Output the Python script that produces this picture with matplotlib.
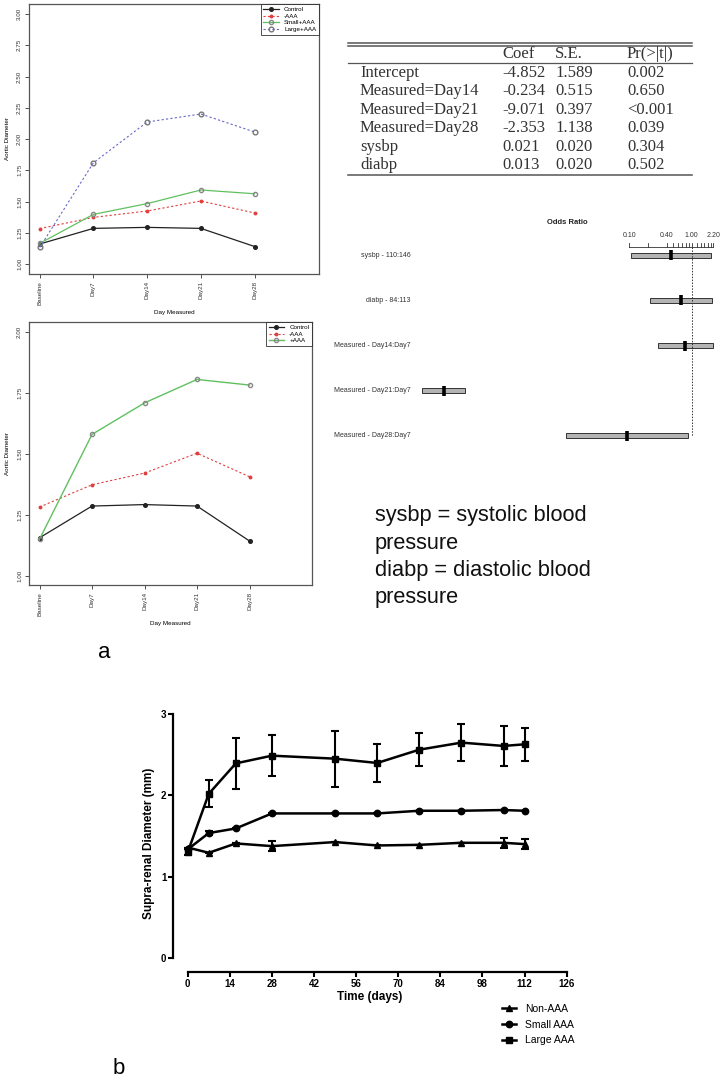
import matplotlib
matplotlib.use("Agg")
import matplotlib.pyplot as plt
import matplotlib.transforms as mtransforms
from matplotlib.lines import Line2D
import numpy as np

# ---- panel a, top: aortic diameter by group (4 groups)
days_cat = ["Baseline", "Day7", "Day14", "Day21", "Day28"]
control = [1.16, 1.285, 1.293, 1.285, 1.14]
minus_aaa = [1.283, 1.373, 1.424, 1.504, 1.408]
small_aaa = [1.165, 1.397, 1.483, 1.592, 1.562]
large_aaa = [1.133, 1.81, 2.136, 2.20, 2.056]

# ---- panel a, middle: aortic diameter (3 groups)
control2 = [1.157, 1.287, 1.293, 1.287, 1.144]
minus_aaa2 = [1.283, 1.374, 1.422, 1.503, 1.407]
plus_aaa2 = [1.151, 1.580, 1.709, 1.805, 1.782]

# ---- regression table
tab_rows = ["Intercept", "Measured=Day14", "Measured=Day21", "Measured=Day28", "sysbp", "diabp"]
tab_coef = ["-4.852", "-0.234", "-9.071", "-2.353", "0.021", "0.013"]
tab_se = ["1.589", "0.515", "0.397", "1.138", "0.020", "0.020"]
tab_p = ["0.002", "0.650", "<0.001", "0.039", "0.304", "0.502"]

# ---- odds ratio plot
or_labels = ["sysbp - 110:146", "diabp - 84:113", "Measured - Day14:Day7",
             "Measured - Day21:Day7", "Measured - Day28:Day7"]
or_point = [0.462, 0.667, 0.79, 1.1e-4, 0.0927]
or_low = [0.107, 0.2135, 0.2865, 5.0e-5, 0.00995]
or_high = [2.01, 2.11, 2.21, 2.4e-4, 0.882]
or_ticks = [0.1, 0.2, 0.4, 0.5, 0.6, 0.7, 0.8, 0.9, 1.0, 1.2, 1.4, 1.6, 1.8, 2.0, 2.2]
or_ticklabels = {0.1: "0.10", 0.4: "0.40", 1.0: "1.00", 2.2: "2.20"}

# ---- panel b: supra-renal diameter over time
time_days = [0, 7, 16, 28, 49, 63, 77, 91, 105, 112]
non_aaa = [1.358, 1.293, 1.408, 1.375, 1.425, 1.383, 1.391, 1.416, 1.416, 1.40]
non_aaa_err = [0.0, 0.0, 0.0, 0.06, 0.0, 0.0, 0.0, 0.0, 0.06, 0.065]
small_b = [1.335, 1.536, 1.593, 1.778, 1.778, 1.778, 1.811, 1.811, 1.82, 1.811]
small_b_err = [0.0, 0.03, 0.0, 0.0, 0.0, 0.0, 0.0, 0.0, 0.0, 0.0]
large_b = [1.30, 2.02, 2.395, 2.49, 2.453, 2.40, 2.564, 2.651, 2.61, 2.63]
large_b_err = [0.04, 0.165, 0.31, 0.25, 0.345, 0.23, 0.20, 0.225, 0.25, 0.20]

W, H = 724, 1079
fig = plt.figure(figsize=(W / 100, H / 100), dpi=100)
plt.rcParams["font.family"] = ["Liberation Sans", "DejaVu Sans"]


def add_ax(l, t, r, b):
    return fig.add_axes([l / W, 1 - b / H, (r - l) / W, (b - t) / H])


def r_panel(ax, series, ylim, yticks):
    x = np.arange(len(days_cat))
    for vals, kw in series:
        ax.plot(x, vals, **kw)
    ax.set_xlim(-0.2, 5.2)
    ax.set_ylim(*ylim)
    ax.set_xticks(x)
    ax.set_xticklabels(days_cat, rotation=90, fontsize=4.5)
    ax.set_yticks(yticks)
    ax.set_yticklabels([f"{v:.2f}" for v in yticks], rotation=90, va="center", fontsize=4.5)
    ax.tick_params(length=3, width=0.6, colors="#333333", pad=2)
    for s in ax.spines.values():
        s.set_color("#555555")
        s.set_linewidth(0.9)
    ax.set_ylabel("Aortic Diameter", fontsize=4.5, labelpad=5)
    ax.set_xlabel("Day Measured", fontsize=4.5, labelpad=4)
    ax.legend(loc="upper right", fontsize=4.5, frameon=True, fancybox=False,
              edgecolor="#222222", borderaxespad=0, handlelength=2.5,
              labelspacing=0.2, borderpad=0.45).get_frame().set_linewidth(0.7)


ax1 = add_ax(29, 4, 319, 274)
r_panel(ax1, [
    (control, dict(color="#222222", lw=0.9, marker="o", ms=2.6, label="Control")),
    (minus_aaa, dict(color="#e04040", lw=0.8, ls=(0, (2, 2)), marker="o", ms=1.8, label="-AAA")),
    (small_aaa, dict(color="#60c060", lw=0.9, marker="o", ms=3, mfc="none", mec="#888888", label="Small+AAA")),
    (large_aaa, dict(color="#6868c8", lw=0.8, ls=(0, (2, 2)), marker="o", ms=3.4, mfc="none", mec="#777777", label="Large+AAA")),
], (0.92, 3.08), [1.0, 1.25, 1.5, 1.75, 2.0, 2.25, 2.5, 2.75, 3.0])

ax2 = add_ax(29, 322, 312, 585)
r_panel(ax2, [
    (control2, dict(color="#222222", lw=0.9, marker="o", ms=2.6, label="Control")),
    (minus_aaa2, dict(color="#e04040", lw=0.8, ls=(0, (2, 2)), marker="o", ms=1.8, label="-AAA")),
    (plus_aaa2, dict(color="#60c060", lw=1.0, marker="o", ms=3, mfc="none", mec="#888888", label="+AAA")),
], (0.964, 2.04), [1.0, 1.25, 1.5, 1.75, 2.0])
ax2.set_xlim(-0.2, 5.19)

# overlay in pixel coordinates for table and free text
ov = fig.add_axes([0, 0, 1, 1], zorder=-1)
ov.set_xlim(0, W)
ov.set_ylim(H, 0)
ov.axis("off")

tfont = dict(family=["Liberation Serif"], fontsize=12, color="#333333", va="center")
ov.plot([348, 692], [42.7, 42.7], color="#555555", lw=1.1)
ov.plot([348, 692], [45.6, 45.6], color="#555555", lw=1.1)
ov.plot([348, 692], [63, 63], color="#555555", lw=0.9)
ov.plot([348, 692], [175, 175], color="#555555", lw=1.1)
ov.text(502, 54, "Coef", **tfont)
ov.text(555, 54, "S.E.", **tfont)
ov.text(627, 54, "Pr(>|t|)", **tfont)
row_y = np.linspace(72.7, 165.3, len(tab_rows))
for yy, lab, c, se, p in zip(row_y, tab_rows, tab_coef, tab_se, tab_p):
    ov.text(360, yy, lab, **tfont)
    ov.text(502, yy, c, **tfont)
    ov.text(555, yy, se, **tfont)
    ov.text(627, yy, p, **tfont)

ov.text(375, 556.7, "sysbp = systolic blood\npressure\ndiabp = diastolic blood\npressure",
        fontsize=15.7, va="center", ha="left", linespacing=1.39, color="#111111")
ov.text(104, 653, "a", fontsize=16, ha="center", va="center")
ov.text(119, 1069, "b", fontsize=16, ha="center", va="center")

# odds ratio plot
ax3 = add_ax(415, 215, 720, 445)
ax3.set_xscale("log")
ax3.set_xlim(np.exp((415 - 691.7) / 27.2), np.exp((720 - 691.7) / 27.2))
ax3.set_ylim(4.206, -0.894)
ax3.axis("off")
yr = np.arange(len(or_labels))
ax3.barh(yr, np.array(or_high) - np.array(or_low), left=or_low, height=0.11,
         color="#b4b4b4", edgecolor="#333333", linewidth=0.7)
ax3.plot(or_point, yr, ls="none", marker="|", ms=7, mew=2.6, color="black")
lt = mtransforms.blended_transform_factory(ax3.transAxes, ax3.transData)
for yy, lab in zip(yr, or_labels):
    ax3.text(-0.014, yy, lab, transform=lt, ha="right", va="center", fontsize=5, color="#333333")
ax_y = -0.177
ax3.plot([min(or_ticks), max(or_ticks)], [ax_y, ax_y], color="#333333", lw=0.6)
for t in or_ticks:
    ax3.plot([t, t], [ax_y, ax_y - 0.09], color="#333333", lw=0.6)
    if t in or_ticklabels:
        ax3.text(t, ax_y - 0.26, or_ticklabels[t], ha="center", va="center", fontsize=5, color="#333333")
ax3.plot([1, 1], [ax_y, 4.0], color="#333333", lw=0.7, ls=(0, (1.5, 1.5)))
ax3.text(0.498, -0.723, "Odds Ratio", transform=lt, ha="center", va="center",
         fontsize=5.5, fontweight="bold", color="#222222")

# panel b
ax4 = add_ax(173.3, 714.3, 566.7, 971.7)
ebkw = dict(color="black", lw=1.8, capsize=3.2, capthick=1.5, elinewidth=1.5, clip_on=False)
ax4.errorbar(time_days, non_aaa, yerr=non_aaa_err, marker="^", ms=5, **ebkw)
ax4.errorbar(time_days, small_b, yerr=small_b_err, marker="o", ms=4.6, **ebkw)
ax4.errorbar(time_days, large_b, yerr=large_b_err, marker="s", ms=4.6, **ebkw)
ax4.set_xlim(-4.79, 126)
ax4.set_ylim(-0.173, 3.0)
ax4.set_xticks(np.arange(0, 127, 14))
ax4.set_yticks([0, 1, 2, 3])
for s in ["top", "right"]:
    ax4.spines[s].set_visible(False)
ax4.spines["left"].set_bounds(0, 3)
ax4.spines["bottom"].set_bounds(0, 126)
for s in ["left", "bottom"]:
    ax4.spines[s].set_linewidth(1.6)
ax4.tick_params(length=3.5, width=1.5, pad=1.5, labelsize=7)
for lab in ax4.get_xticklabels() + ax4.get_yticklabels():
    lab.set_fontweight("bold")
ax4.set_xlabel("Time (days)", fontsize=8.5, fontweight="bold", labelpad=2)
ax4.set_ylabel("Supra-renal Diameter (mm)", fontsize=8.5, fontweight="bold", labelpad=4)
handles = [Line2D([], [], color="black", lw=1.8, marker=m, ms=ms)
           for m, ms in [("^", 5), ("o", 4.6), ("s", 4.6)]]
ax4.legend(handles, ["Non-AAA", "Small AAA", "Large AAA"], loc="upper left",
           bbox_to_anchor=(502 / W, 1 - 1004 / H), bbox_transform=fig.transFigure,
           frameon=False, fontsize=7.5, handlelength=1.3, handletextpad=0.9,
           labelspacing=0.55, borderpad=0, borderaxespad=0)

fig.savefig("out.png", dpi=100)
